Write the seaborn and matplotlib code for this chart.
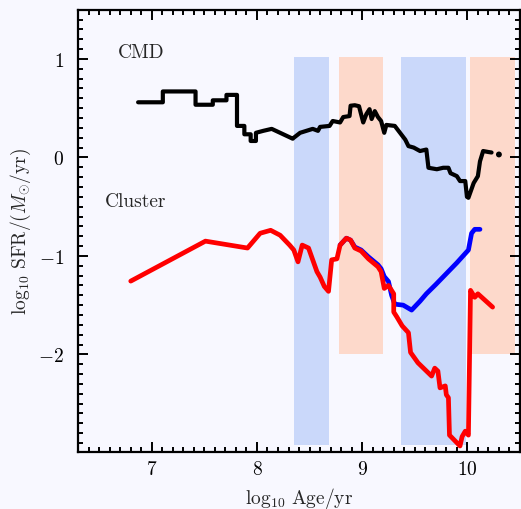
import numpy as np
import pandas as pd
import matplotlib
matplotlib.use("Agg")
import matplotlib.pyplot as plt
import seaborn as sns
from matplotlib.ticker import MultipleLocator

# ---------------- data ----------------
cmd_x = [6.87, 7.105, 7.105, 7.416, 7.416, 7.58, 7.58, 7.71, 7.71, 7.81, 7.81, 7.88, 7.88,
         7.94, 7.94, 7.99, 7.99, 8.06, 8.14, 8.25, 8.34, 8.35, 8.41, 8.53, 8.58, 8.60, 8.69,
         8.72, 8.79, 8.82, 8.88, 8.89, 8.93, 8.97, 9.01, 9.04, 9.07, 9.09, 9.12, 9.15, 9.18,
         9.21, 9.23, 9.31, 9.36, 9.41, 9.44, 9.49, 9.55, 9.61, 9.63, 9.71, 9.77, 9.82, 9.84,
         9.90, 9.93, 9.98, 9.996, 10.01, 10.06, 10.10, 10.12, 10.15, 10.20, 10.23]
cmd_y = [0.56, 0.56, 0.67, 0.67, 0.535, 0.535, 0.58, 0.58, 0.635, 0.635, 0.32, 0.32, 0.235,
         0.235, 0.167, 0.167, 0.25, 0.27, 0.29, 0.235, 0.19, 0.20, 0.25, 0.29, 0.27, 0.31, 0.32,
         0.37, 0.355, 0.41, 0.42, 0.525, 0.53, 0.52, 0.355, 0.44, 0.49, 0.39, 0.47, 0.41, 0.37,
         0.25, 0.33, 0.32, 0.25, 0.18, 0.115, 0.10, 0.065, 0.08, -0.105, -0.12, -0.105, -0.105, -0.16,
         -0.19, -0.24, -0.24, -0.40, -0.41, -0.26, -0.19, -0.04, 0.065, 0.055, 0.05]
cmd_dot_x = [10.30]
cmd_dot_y = [0.03]

red_x = [6.80, 7.51, 7.91, 8.03, 8.13, 8.22, 8.31, 8.35, 8.39, 8.43, 8.49, 8.52, 8.57, 8.60,
         8.64, 8.68, 8.71, 8.76, 8.79, 8.85, 8.89, 8.93, 8.99, 9.06, 9.15, 9.18, 9.21, 9.25,
         9.30, 9.30, 9.33, 9.38, 9.44, 9.46, 9.53, 9.66, 9.69, 9.72, 9.74, 9.79, 9.80, 9.82,
         9.83, 9.93, 9.95, 9.98, 10.01, 10.03, 10.07, 10.10, 10.24]
red_y = [-1.256, -0.85, -0.92, -0.77, -0.74, -0.79, -0.89, -0.94, -1.06, -0.89, -0.92, -1.01,
         -1.16, -1.215, -1.31, -1.36, -1.04, -1.03, -0.89, -0.82, -0.84, -0.92, -0.95, -1.03,
         -1.11, -1.16, -1.33, -1.30, -1.385, -1.57, -1.62, -1.71, -1.78, -1.98, -2.085, -2.22,
         -2.14, -2.17, -2.34, -2.32, -2.41, -2.44, -2.82, -2.93, -2.835, -2.78, -2.82, -1.35,
         -1.42, -1.385, -1.52]

blue_x = [8.79, 8.85, 8.89, 8.93, 8.99, 9.06, 9.15, 9.18, 9.21, 9.25, 9.28, 9.31, 9.39,
          9.47, 9.55, 9.61, 9.70, 9.80, 9.90, 10.01, 10.04, 10.07, 10.12]
blue_y = [-0.89, -0.82, -0.84, -0.91, -0.94, -1.01, -1.09, -1.13, -1.21, -1.26, -1.40, -1.49,
          -1.50, -1.55, -1.46, -1.385, -1.29, -1.18, -1.07, -0.94, -0.77, -0.73, -0.73]

blue_spans = [(8.352, 8.686), (9.366, 9.985)]
orange_spans = [(8.778, 9.194), (10.029, 10.455)]
blue_span_y = (-2.92, 1.02)
orange_span_y = (-2.0, 1.02)

# ---------------- style ----------------
sns.set_style("ticks")
plt.rcParams.update({
    "font.family": "serif",
    "font.serif": ["cmr10"],
    "mathtext.fontset": "cm",
    "axes.formatter.use_mathtext": True,
    "font.size": 14,
})

bg = "#f8f8ff"
fig = plt.figure(figsize=(5.21, 5.10), dpi=100, facecolor=bg)
ax = fig.add_axes([0.150, 0.112, 0.848, 0.867])
ax.set_facecolor(bg)

for x0, x1 in blue_spans:
    ax.fill_between([x0, x1], blue_span_y[0], blue_span_y[1], color="#cad8fa", lw=0, zorder=0)
for x0, x1 in orange_spans:
    ax.fill_between([x0, x1], orange_span_y[0], orange_span_y[1], color="#fdd9cb", lw=0, zorder=0)

df_cmd = pd.DataFrame({"x": cmd_x, "y": cmd_y})
df_red = pd.DataFrame({"x": red_x, "y": red_y})
df_blue = pd.DataFrame({"x": blue_x, "y": blue_y})

line_kw = dict(estimator=None, sort=False, solid_capstyle="round", solid_joinstyle="round")
sns.lineplot(data=df_cmd, x="x", y="y", color="black", lw=3.0, ax=ax, **line_kw)
sns.scatterplot(x=cmd_dot_x, y=cmd_dot_y, color="black", s=18, edgecolor="none", ax=ax)
sns.lineplot(data=df_blue, x="x", y="y", color="#0000ff", lw=3.4, ax=ax, **line_kw)
sns.lineplot(data=df_red, x="x", y="y", color="#ff0000", lw=3.4, ax=ax, **line_kw)

ax.text(6.68, 1.07, "CMD", fontsize=14, va="center", ha="left")
ax.text(6.55, -0.44, "Cluster", fontsize=14, va="center", ha="left")

ax.set_xlim(6.3, 10.5)
ax.set_ylim(-2.99, 1.5)
ax.xaxis.set_major_locator(MultipleLocator(1))
ax.xaxis.set_minor_locator(MultipleLocator(0.1))
ax.yaxis.set_major_locator(MultipleLocator(1))
ax.yaxis.set_minor_locator(MultipleLocator(0.1))
ax.tick_params(which="both", direction="in", top=True, right=True, width=1.4, colors="black")
ax.tick_params(which="major", length=7)
ax.tick_params(which="minor", length=3.5)
ax.tick_params(axis="x", which="major", pad=6, labelsize=14)
ax.tick_params(axis="y", which="major", pad=10, labelsize=14)
for s in ax.spines.values():
    s.set_linewidth(1.6)
    s.set_color("black")

ax.set_xlabel(r"$\log_{10}\,{\rm Age/yr}$", fontsize=14, labelpad=5)
ax.set_ylabel(r"$\log_{10}\,{\rm SFR}/(M_{\odot}/{\rm yr})$", fontsize=14, labelpad=4)

fig.savefig("out.png", dpi=100, facecolor=bg)
